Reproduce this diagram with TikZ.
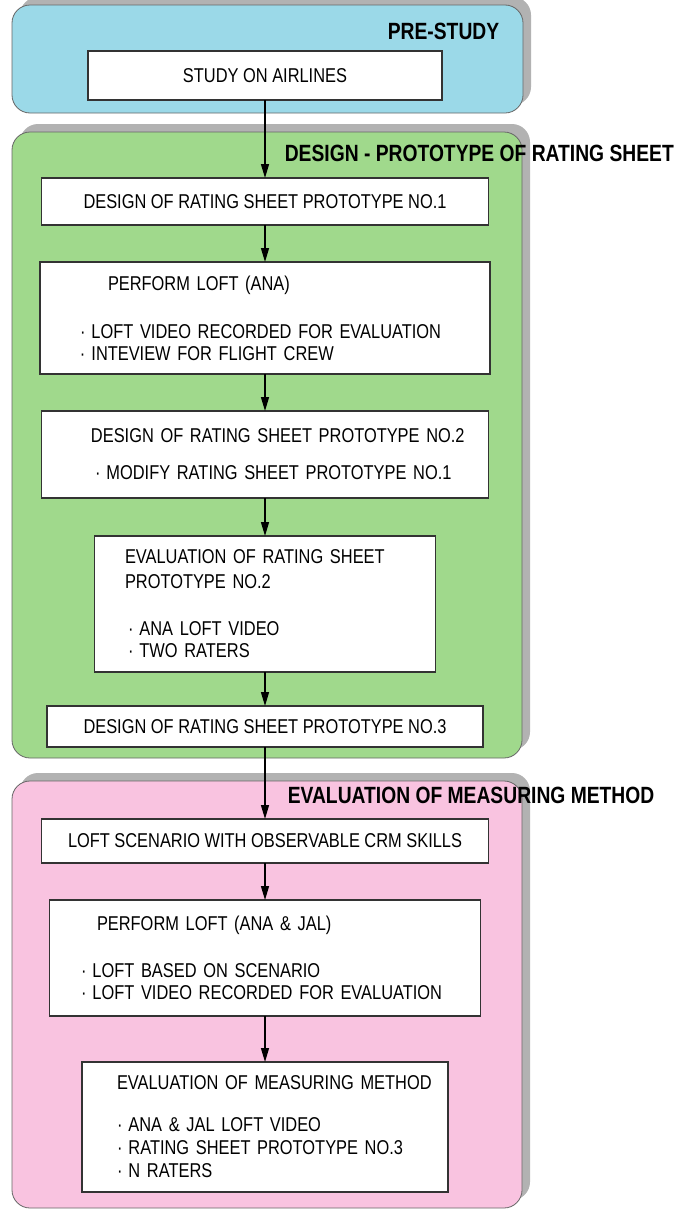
\documentclass[tikz,border=0pt]{standalone}
\usepackage{fontspec}
\setmainfont{Liberation Sans}[FakeStretch=0.82]
\usetikzlibrary{arrows.meta,positioning,shadows}
\definecolor{prebg}{HTML}{9BD9E8}
\definecolor{designbg}{HTML}{A0D98C}
\definecolor{evalbg}{HTML}{F9C3E0}
\newcommand{\itm}{·\hspace{6pt}}

\begin{document}
\begin{tikzpicture}[
    x=1pt, y=-1pt,
    font=\fontsize{20}{22}\selectfont,
    panel/.style={draw=black!60, line width=0.8pt, rounded corners=18pt, inner sep=0pt,
      drop shadow={shadow xshift=8pt, shadow yshift=8pt, fill=black!30, opacity=1}},
    phase/.style={font=\fontsize{23.5}{26}\selectfont\bfseries, inner sep=0pt},
    stage/.style={draw=black!80, line width=1.8pt, fill=white, inner sep=0pt, outer sep=0pt, align=center},
    list/.style={stage, align=left},
    arr/.style={-{Triangle[length=14pt, width=8pt]}, line width=1.3pt}
  ]
    \useasboundingbox (0,0) rectangle (675,1210);
    \node[panel, fill=prebg, minimum width=511pt, minimum height=108pt] (pre) at (267.5,59) {};
    \node[panel, fill=designbg, minimum width=510pt, minimum height=626pt] (des) at (267,445) {};
    \node[panel, fill=evalbg, minimum width=510pt, minimum height=427pt] (evl) at (267,994.5) {};
    \node[phase, below left=18pt and 24pt of pre.north east] (pretitle) {PRE-STUDY};
    \node[phase, below right=13pt and 273pt of des.north west] (destitle) {DESIGN - PROTOTYPE OF RATING SHEET};
    \node[phase, below right=6pt and 276pt of evl.north west] (evltitle) {EVALUATION OF MEASURING METHOD};
    \node[stage, minimum width=354pt, minimum height=49pt] (study) at (265,75.5) {STUDY ON AIRLINES};
    \node[stage, minimum width=447pt, minimum height=47pt, below=78pt of study] (rs1) {DESIGN OF RATING SHEET PROTOTYPE NO.1};
    \node[list, text width=450pt, minimum height=112pt, below=37pt of rs1] (loft1) {\leftskip=40pt
      \hspace*{28pt}PERFORM LOFT (ANA)\\[26pt]
      \itm LOFT VIDEO RECORDED FOR EVALUATION\\
      \itm INTEVIEW FOR FLIGHT CREW\par};
    \node[list, text width=447pt, minimum height=87pt, below=37pt of loft1] (rs2) {\leftskip=49.5pt
      DESIGN OF RATING SHEET PROTOTYPE NO.2\\[15pt]
      \hspace*{4pt}\itm MODIFY RATING SHEET PROTOTYPE NO.1\par};
    \node[list, text width=341pt, minimum height=136pt, below=38pt of rs2] (evrs) {\leftskip=30.5pt
      EVALUATION OF RATING SHEET\\[3pt]
      PROTOTYPE NO.2\\[25pt]
      \hspace*{3pt}\itm ANA LOFT VIDEO\\
      \hspace*{3pt}\itm TWO RATERS\par};
    \node[stage, minimum width=436pt, minimum height=41pt, below=34pt of evrs] (rs3) {DESIGN OF RATING SHEET PROTOTYPE NO.3};
    \node[stage, minimum width=447pt, minimum height=44pt, below=72pt of rs3] (scen) {LOFT SCENARIO WITH OBSERVABLE CRM SKILLS};
    \node[list, text width=431pt, minimum height=116pt, below=37pt of scen] (loft2) {\leftskip=31.5pt
      \hspace*{16pt}PERFORM LOFT (ANA \& JAL)\\[25pt]
      \itm LOFT BASED ON SCENARIO\\
      \itm LOFT VIDEO RECORDED FOR EVALUATION\par};
    \node[list, text width=366pt, minimum height=130pt, below=46pt of loft2] (meas) {\leftskip=35pt
      EVALUATION OF MEASURING METHOD\\[20pt]
      \itm ANA \& JAL LOFT VIDEO\\[1pt]
      \itm RATING SHEET PROTOTYPE NO.3\\[1pt]
      \itm N RATERS\par};
    \draw[arr] (study) -- (rs1);
    \draw[arr] (rs1) -- (loft1);
    \draw[arr] (loft1) -- (rs2);
    \draw[arr] (rs2) -- (evrs);
    \draw[arr] (evrs) -- (rs3);
    \draw[arr] (rs3) -- (scen);
    \draw[arr] (scen) -- (loft2);
    \draw[arr] (loft2) -- (meas);
  \end{tikzpicture}
\end{document}
